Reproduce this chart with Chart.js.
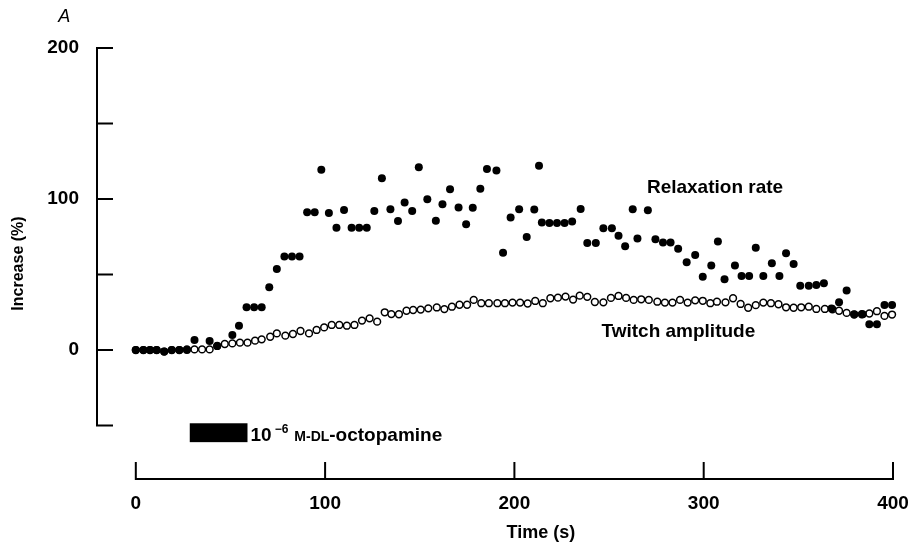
<!DOCTYPE html>
<html><head><meta charset="utf-8">
<script src="https://cdn.jsdelivr.net/npm/chart.js@4.4.0/dist/chart.umd.min.js"></script>
<style>html,body{margin:0;padding:0;background:#fff}#wrap{width:914px;height:547px}</style>
</head><body><div id="wrap"><canvas id="c" width="914" height="547"></canvas></div>
<script>
// ---- data ----
const relaxTime = [0,4,7.5,11,15,19,23,27,31,39,43,51,54.5,58.5,62.5,66.5,70.5,74.5,78.5,82.5,86.5,90.5,94.5,98,102,106,110,114,118,122,126,130,134.5,138.5,142,146,149.5,154,158.5,162,166,170.5,174.5,178,182,185.5,190.5,194,198,202.5,206.5,210.5,213,214.5,218.5,222.5,226.5,230.5,235,238.5,243,247,251.5,255,258.5,262.5,265,270.5,274.5,278.5,282.5,286.5,291,295.5,299.5,304,307.5,311,316.5,320,324,327.5,331.5,336,340,343.5,347.5,351,355.5,359.5,363.5,367.5,371.5,375.5,379.5,384,387.5,391.5,395.5,399.5];
const relaxValue = [0,0,0,0,-1,0,0,0,6.6,6,2.7,10,16,28.3,28.3,28.3,41.5,53.7,62,62,62,91.2,91.2,119.3,90.8,81,92.8,81,81,81,92,113.8,93.3,85.5,97.7,92,121,99.9,85.6,96.6,106.5,94.4,83.3,94.2,106.8,119.8,118.9,64.5,87.8,93.3,74.9,93,122,84.4,84.2,84.2,84.2,85.1,93.4,70.9,70.9,80.7,80.7,75.7,68.8,93.3,73.8,92.6,73.4,71.2,71.2,67,58.1,63,48.6,55.9,71.8,46.9,55.9,49.1,49.1,67.8,49.1,57.5,49.1,64.1,57,42.6,42.6,43.1,44.2,27.5,31.7,39.5,23.7,23.7,17.1,17.1,29.8,29.8];
const twitchTime = [0,4,7.5,11,15,19,23,27,31,35,39,43,47,51,55,59,63,66.5,71,74.5,79,83,87,91.5,95.5,99.5,103.5,107.5,111.5,115.5,119.5,123.5,127.5,131.5,135,139,143,146.5,150.5,154.5,159,163,167,171,175,178.5,182.5,186.5,191,195,199,203,207,211,215,219,223,227,231,234.5,238.5,242.5,247,251,255,259,263,267,271,275.5,279.5,283.5,287.5,291.5,295.5,299.5,303.5,307,311.5,315.5,319.5,323.5,327.5,331.5,335.5,339.5,343.5,347.5,351.5,355.5,359.5,364,368,371.5,375.5,379.5,383.5,387.5,391.5,395.5,399.5];
const twitchValue = [0,0,0,0,-1,0,0,0.4,0.4,0.4,0.4,2.7,4,4.4,4.9,4.9,6.2,7.1,8.8,11,9.5,10.6,12.6,11,13.3,15,16.6,16.6,16.1,16.6,19.5,21,18.8,25,23.8,23.7,26,26.5,26.8,27.6,28.2,27.1,28.7,30,30,33.2,31,31,31,31,31.4,31.4,30.8,32.5,31,34.3,34.7,35.4,33.4,36,35.2,31.8,31.6,34.5,35.8,34.5,33.2,33.6,33.2,32,31.4,31.4,33.2,31.4,32.9,32.6,31,32,31.6,34.3,30.5,28,29.7,31.4,31,30.3,28.3,28,28.3,28.7,27.2,27.2,27,26,24.6,23.5,23.7,24.2,25.7,22.6,23.5];
const xTicks = [0,100,200,300,400];
const yTicks = [-50,0,50,100,150,200];
const yLabelled = [0,100,200];
const drugStart = 28.5, drugEnd = 59;

const FONT = "'Liberation Sans', Arial, sans-serif";

const axesPlugin = {
  id: 'customAxes',
  beforeDatasetsDraw(chart) {
    const {ctx, chartArea, scales: {x, y}} = chart;
    ctx.save();
    ctx.strokeStyle = '#000';
    ctx.lineWidth = 2;
    ctx.beginPath();
    const ax = chartArea.left;
    ctx.moveTo(ax, y.getPixelForValue(yTicks[0]) + 1);
    ctx.lineTo(ax, y.getPixelForValue(yTicks[yTicks.length - 1]) - 1);
    yTicks.forEach(v => {
      const py = y.getPixelForValue(v);
      ctx.moveTo(ax - 1, py); ctx.lineTo(ax + 16, py);
    });
    const by = chartArea.bottom;
    ctx.moveTo(x.getPixelForValue(xTicks[0]) - 1, by);
    ctx.lineTo(x.getPixelForValue(xTicks[xTicks.length - 1]) + 1, by);
    xTicks.forEach(v => {
      const px = x.getPixelForValue(v);
      ctx.moveTo(px, by + 1); ctx.lineTo(px, by - 17);
    });
    ctx.stroke();

    // drug application bar
    ctx.fillStyle = '#000';
    const x0 = x.getPixelForValue(drugStart), x1 = x.getPixelForValue(drugEnd);
    const y0 = y.getPixelForValue(-48.5), y1 = y.getPixelForValue(-61);
    ctx.fillRect(x0, y0, x1 - x0, y1 - y0);

    // drug label
    let tx = x1 + 3;
    const base = y.getPixelForValue(-60.5);
    ctx.textBaseline = 'alphabetic';
    ctx.textAlign = 'left';
    ctx.font = 'bold 19px ' + FONT;
    ctx.fillText('10', tx, base); tx += ctx.measureText('10').width + 3;
    ctx.font = 'bold 12px ' + FONT;
    ctx.fillText('\u2212' + '6', tx, base - 8); tx += ctx.measureText('\u22126').width + 6;
    ctx.font = 'bold 14px ' + FONT;
    ctx.fillText('M-DL', tx, base); tx += ctx.measureText('M-DL').width;
    ctx.font = 'bold 19px ' + FONT;
    ctx.fillText('-octopamine', tx, base);

    // series labels
    ctx.font = 'bold 19px ' + FONT;
    ctx.fillText('Relaxation rate', x.getPixelForValue(270), y.getPixelForValue(103.8));
    ctx.fillText('Twitch amplitude', x.getPixelForValue(246), y.getPixelForValue(8.8));

    // x title
    ctx.font = 'bold 18px ' + FONT;
    ctx.textAlign = 'center';
    ctx.textBaseline = 'middle';
    ctx.fillText('Time (s)', x.getPixelForValue(214), y.getPixelForValue(-121));

    // panel letter
    ctx.font = 'italic 18px ' + FONT;
    ctx.textAlign = 'left';
    ctx.textBaseline = 'alphabetic';
    ctx.fillText('A', x.getPixelForValue(-41), y.getPixelForValue(217));
    ctx.restore();
  }
};

new Chart(document.getElementById('c'), {
  type: 'scatter',
  data: {
    datasets: [
      {
        label: 'Relaxation rate',
        data: relaxTime.map((t, i) => ({x: t, y: relaxValue[i]})),
        pointRadius: 4,
        pointBackgroundColor: '#000',
        pointBorderColor: '#000',
        pointBorderWidth: 0,
        showLine: false
      },
      {
        label: 'Twitch amplitude',
        data: twitchTime.map((t, i) => ({x: t, y: twitchValue[i]})),
        pointRadius: 3.4,
        pointBackgroundColor: '#fff',
        pointBorderColor: '#000',
        pointBorderWidth: 1.5,
        showLine: false
      }
    ]
  },
  options: {
    responsive: false,
    animation: false,
    clip: false,
    layout: {padding: {top: 48, right: 21, left: 0, bottom: 0}},
    plugins: {legend: {display: false}, tooltip: {enabled: false}},
    scales: {
      x: {
        type: 'linear', min: -20.5, max: 400,
        grid: {display: false}, border: {display: false},
        afterBuildTicks: s => { s.ticks = xTicks.map(v => ({value: v})); },
        afterFit: s => { s.height = 68; },
        ticks: {color: '#000', font: {family: FONT, size: 19, weight: 'bold'}, padding: 5, maxRotation: 0, autoSkip: false}
      },
      y: {
        type: 'linear', min: -85.4, max: 200,
        grid: {display: false}, border: {display: false},
        afterBuildTicks: s => { s.ticks = yTicks.map(v => ({value: v})); },
        afterFit: s => { s.width = 97; },
        ticks: {color: '#000', font: {family: FONT, size: 19, weight: 'bold'}, padding: 10, autoSkip: false,
          callback: v => yLabelled.includes(v) ? String(v) : ''},
        title: {display: true, text: 'Increase (%)', color: '#000', font: {family: FONT, size: 16, weight: 'bold'}, padding: {top: 9}}
      }
    }
  },
  plugins: [axesPlugin]
});
</script></body></html>
